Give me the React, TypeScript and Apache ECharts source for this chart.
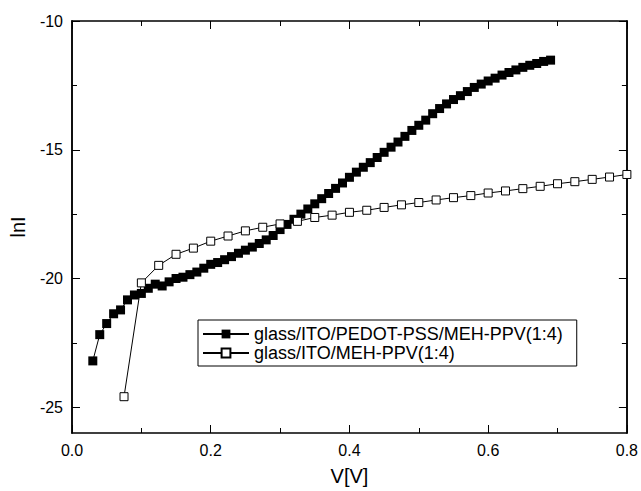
import React, { useEffect, useRef } from "react";
import * as echarts from "echarts";

const filledX = [
  0.03, 0.04, 0.05, 0.06, 0.07, 0.08, 0.09, 0.10, 0.11, 0.12, 0.13, 0.14, 0.15, 0.16, 0.17, 0.18, 0.19,
  0.20, 0.21, 0.22, 0.23, 0.24, 0.25, 0.26, 0.27, 0.28, 0.29, 0.30, 0.31, 0.32, 0.33, 0.34, 0.35, 0.36,
  0.37, 0.38, 0.39, 0.40, 0.41, 0.42, 0.43, 0.44, 0.45, 0.46, 0.47, 0.48, 0.49, 0.50, 0.51, 0.52, 0.53,
  0.54, 0.55, 0.56, 0.57, 0.58, 0.59, 0.60, 0.61, 0.62, 0.63, 0.64, 0.65, 0.66, 0.67, 0.68, 0.69,
];
const filledY = [
  -23.2, -22.18, -21.75, -21.37, -21.22, -20.83, -20.64, -20.58, -20.38, -20.22, -20.29, -20.13, -20.0, -19.95, -19.85, -19.75, -19.6,
  -19.45, -19.38, -19.27, -19.15, -19.02, -18.9, -18.78, -18.64, -18.5, -18.33, -18.1, -17.9, -17.7, -17.5, -17.3, -17.1, -16.9,
  -16.7, -16.5, -16.29, -16.07, -15.87, -15.68, -15.5, -15.3, -15.1, -14.9, -14.7, -14.48, -14.25, -14.05, -13.85, -13.6, -13.4,
  -13.22, -13.05, -12.9, -12.74, -12.58, -12.45, -12.33, -12.22, -12.1, -12.0, -11.9, -11.8, -11.72, -11.65, -11.57, -11.52,
];

const openX = [
  0.075, 0.1, 0.125, 0.15, 0.175, 0.2, 0.225, 0.25, 0.275, 0.3, 0.325, 0.35, 0.375, 0.4, 0.425,
  0.45, 0.475, 0.5, 0.525, 0.55, 0.575, 0.6, 0.625, 0.65, 0.675, 0.7, 0.725, 0.75, 0.775, 0.8,
];
const openY = [
  -24.59, -20.17, -19.49, -19.06, -18.82, -18.55, -18.35, -18.15, -18.01, -17.88, -17.78, -17.63, -17.54, -17.43, -17.35,
  -17.24, -17.14, -17.05, -16.95, -16.86, -16.78, -16.68, -16.6, -16.51, -16.42, -16.32, -16.24, -16.15, -16.06, -15.96,
];

const yMajor = [-25, -20, -15, -10];
const yMinor = [-22.5, -17.5, -12.5];
const seriesNames = ["glass/ITO/PEDOT-PSS/MEH-PPV(1:4)", "glass/ITO/MEH-PPV(1:4)"];

const FONT = "Liberation Sans, Arial, sans-serif";

export default function App() {
  const ref = useRef<HTMLDivElement>(null);
  useEffect(() => {
    if (!ref.current) return;
    const chart = echarts.init(ref.current, null, { renderer: "svg" });
    const axisLine = { show: true, lineStyle: { color: "#000", width: 1.5 } };
    const yBase = {
      type: "value",
      min: -26,
      max: -10,
      axisLine,
      splitLine: { show: false },
    };
    chart.setOption({
      animation: false,
      backgroundColor: "#fff",
      grid: { left: 67, right: 11, top: 21, bottom: 54 },
      xAxis: [
        {
          type: "value",
          min: 0,
          max: 0.8,
          interval: 0.2,
          position: "bottom",
          axisLine,
          axisTick: { show: true, inside: true, length: 8, lineStyle: { color: "#000", width: 1 } },
          minorTick: { show: true, splitNumber: 2, length: 5, lineStyle: { color: "#000", width: 1 } },
          splitLine: { show: false },
          axisLabel: {
            color: "#000",
            fontSize: 16,
            fontFamily: FONT,
            margin: 9,
            formatter: (v: number) => v.toFixed(1),
          },
          name: "V[V]",
          nameLocation: "middle",
          nameGap: 33,
          nameTextStyle: { color: "#000", fontSize: 20, fontFamily: FONT },
        },
        {
          type: "value",
          min: 0,
          max: 0.8,
          interval: 0.2,
          position: "top",
          axisLine,
          axisTick: { show: true, inside: true, length: 8, lineStyle: { color: "#000", width: 1 } },
          minorTick: { show: true, splitNumber: 2, length: 5, lineStyle: { color: "#000", width: 1 } },
          splitLine: { show: false },
          axisLabel: { show: false },
        },
      ],
      yAxis: [
        {
          ...yBase,
          position: "left",
          axisTick: { show: true, inside: true, length: 8, customValues: yMajor, lineStyle: { color: "#000", width: 1 } },
          axisLabel: {
            color: "#000",
            fontSize: 16,
            fontFamily: FONT,
            margin: 9,
            customValues: yMajor,
          },
          name: "lnI",
          nameLocation: "middle",
          nameGap: 44,
          nameTextStyle: { color: "#000", fontSize: 20, fontFamily: FONT },
        },
        {
          ...yBase,
          position: "left",
          axisTick: { show: true, inside: true, length: 5, customValues: yMinor, lineStyle: { color: "#000", width: 1 } },
          axisLabel: { show: false },
        },
        {
          ...yBase,
          position: "right",
          axisTick: { show: true, inside: true, length: 8, customValues: yMajor, lineStyle: { color: "#000", width: 1 } },
          axisLabel: { show: false },
        },
        {
          ...yBase,
          position: "right",
          axisTick: { show: true, inside: true, length: 5, customValues: yMinor, lineStyle: { color: "#000", width: 1 } },
          axisLabel: { show: false },
        },
      ],
      legend: {
        show: true,
        orient: "vertical",
        left: 198,
        top: 320,
        data: seriesNames,
        borderColor: "#000",
        borderWidth: 1,
        borderRadius: 0,
        padding: [5, 14, 4, 4],
        itemGap: 1,
        itemWidth: 46,
        itemHeight: 11,
        textStyle: { color: "#000", fontSize: 18, fontFamily: FONT, lineHeight: 18 },
      },
      series: [
        {
          name: seriesNames[0],
          type: "line",
          xAxisIndex: 0,
          yAxisIndex: 0,
          data: filledX.map((x, i) => [x, filledY[i]]),
          symbol: "rect",
          symbolSize: 9,
          lineStyle: { color: "#000", width: 1 },
          itemStyle: { color: "#000", borderColor: "#000", borderWidth: 0 },
        },
        {
          name: seriesNames[1],
          type: "line",
          xAxisIndex: 0,
          yAxisIndex: 0,
          data: openX.map((x, i) => [x, openY[i]]),
          symbol: "rect",
          symbolSize: 8,
          lineStyle: { color: "#000", width: 1 },
          itemStyle: { color: "#fff", borderColor: "#000", borderWidth: 1 },
        },
      ],
    });
    return () => chart.dispose();
  }, []);
  return <div ref={ref} style={{ width: 641, height: 491, position: "absolute", left: 0, top: 0 }} />;
}
